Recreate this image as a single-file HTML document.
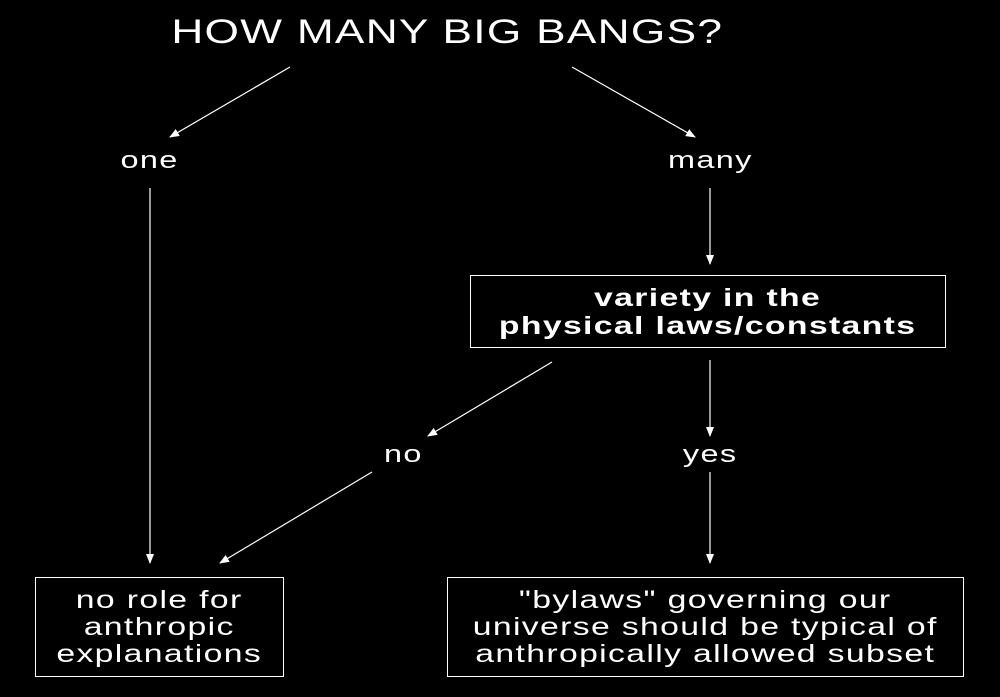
<!DOCTYPE html>
<html><head><style>
html,body{margin:0;padding:0;background:#000;}
body{width:1000px;height:697px;position:relative;overflow:hidden;font-family:"Liberation Sans",sans-serif;color:#fff;}
.t{position:absolute;text-align:center;white-space:nowrap;}
.s{display:inline-block;transform:scaleX(1.35);transform-origin:center;letter-spacing:1px;}
.box{position:absolute;border:1.5px solid #fff;box-sizing:border-box;display:flex;align-items:center;justify-content:center;text-align:center;}
</style></head><body>
<svg width="1000" height="697" style="position:absolute;left:0;top:0">
<defs><marker id="a" markerWidth="10" markerHeight="8" refX="9" refY="4" orient="auto" markerUnits="userSpaceOnUse"><path d="M0,0 L10,4 L0,8 z" fill="#fff"/></marker></defs>
<g stroke="#fff" stroke-width="1.2" marker-end="url(#a)">
<line x1="290" y1="67" x2="170" y2="137"/>
<line x1="572" y1="67" x2="695" y2="137"/>
<line x1="150" y1="188" x2="150" y2="563"/>
<line x1="710" y1="188" x2="710" y2="264"/>
<line x1="710" y1="360" x2="710" y2="436"/>
<line x1="552" y1="362" x2="428" y2="436"/>
<line x1="372" y1="472" x2="220" y2="563"/>
<line x1="710" y1="472" x2="710" y2="563"/>
</g></svg>
<div class="t" style="left:0;width:894px;top:13px;font-size:34px;"><span class="s" style="transform:scaleX(1.3)">HOW MANY BIG BANGS?</span></div>
<div class="t" style="left:50px;width:200px;top:147px;font-size:24px;"><span class="s">one</span></div>
<div class="t" style="left:610px;width:200px;top:147px;font-size:24px;"><span class="s">many</span></div>
<div class="box" style="left:470px;top:275px;width:476px;height:73px;font-weight:bold;font-size:25px;line-height:28px;"><span class="s">variety in the<br>physical laws/constants</span></div>
<div class="t" style="left:303px;width:200px;top:441px;font-size:24px;"><span class="s">no</span></div>
<div class="t" style="left:610px;width:200px;top:441px;font-size:24px;"><span class="s">yes</span></div>
<div class="box" style="left:35px;top:577px;width:249px;height:100px;font-size:25px;line-height:27px;"><span class="s">no role for<br>anthropic<br>explanations</span></div>
<div class="box" style="left:447px;top:577px;width:517px;height:100px;font-size:25px;line-height:27px;"><span class="s">"bylaws" governing our<br>universe should be typical of<br>anthropically allowed subset</span></div>
</body></html>
